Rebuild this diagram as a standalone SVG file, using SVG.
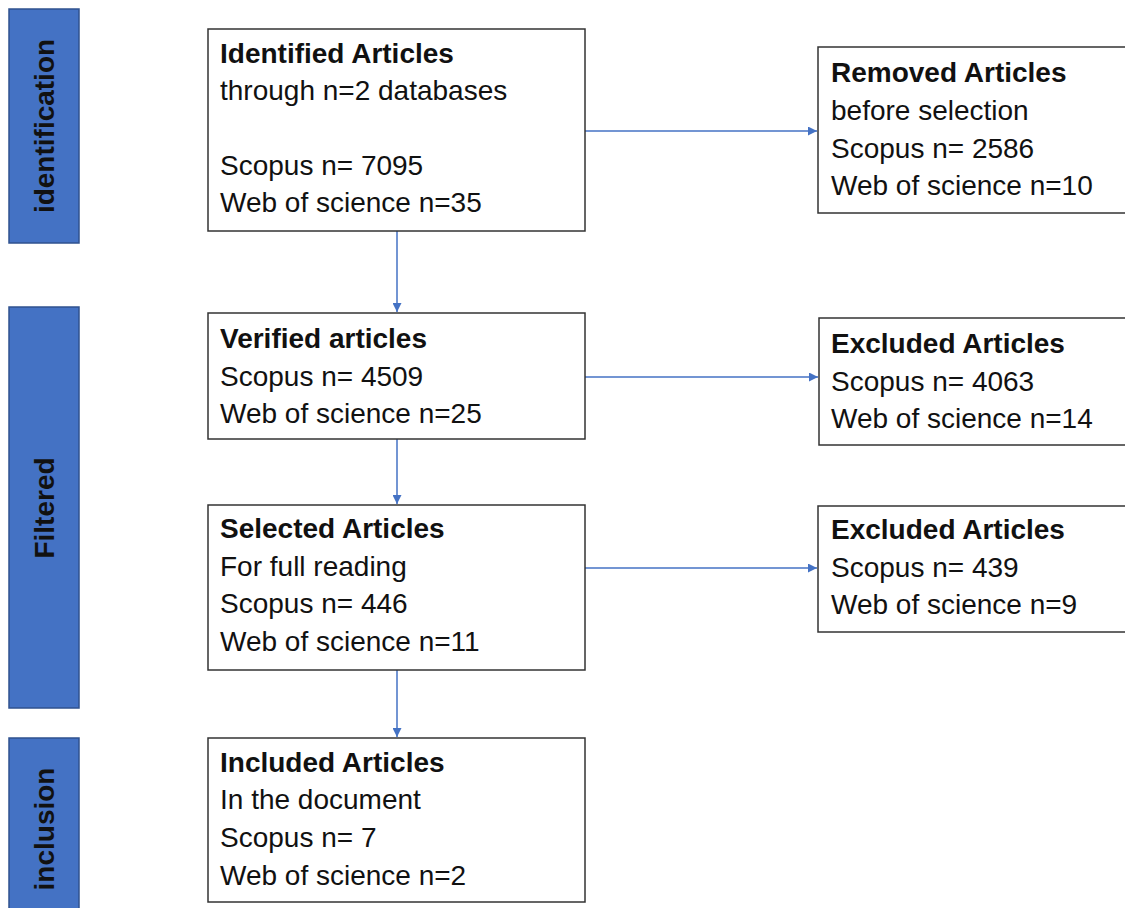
<svg xmlns="http://www.w3.org/2000/svg" width="1125" height="908" viewBox="0 0 1125 908">
<style>
.bar{fill:#4472C4;stroke:#2F528F;stroke-width:1.5}
.bl{font-family:"Liberation Sans",Arial,sans-serif;font-weight:bold;font-size:28px;fill:#111;text-anchor:middle}
.box{fill:#fff;stroke:#333;stroke-width:1.5}
.t{font-family:"Liberation Sans",Arial,sans-serif;font-size:28px;fill:#111}
.b{font-weight:bold}
.c{stroke:#4472C4;stroke-width:1.5;fill:none;marker-end:url(#ah)}
</style>
<defs>
<marker id="ah" viewBox="0 0 10 10" refX="10" refY="5" markerWidth="6" markerHeight="6" markerUnits="strokeWidth" orient="auto">
<path d="M0,0 L10,5 L0,10 z" fill="#4472C4"/>
</marker>
</defs>
<rect width="1125" height="908" fill="#fff"/>
<g id="phase-identification">
<rect class="bar" x="9" y="9" width="70" height="234"/>
<text class="bl" transform="translate(54,126) rotate(-90)">identification</text>
</g>
<g id="phase-filtered">
<rect class="bar" x="9" y="307" width="70" height="401"/>
<text class="bl" transform="translate(54,508) rotate(-90)">Filtered</text>
</g>
<g id="phase-inclusion">
<rect class="bar" x="9" y="738" width="70" height="180"/>
<text class="bl" transform="translate(54,829) rotate(-90)">inclusion</text>
</g>
<g id="connectors">
<line class="c" x1="585" y1="131" x2="817" y2="131"/>
<line class="c" x1="585" y1="377" x2="818" y2="377"/>
<line class="c" x1="585" y1="568" x2="817" y2="568"/>
<line class="c" x1="397" y1="231" x2="397" y2="312"/>
<line class="c" x1="397" y1="439" x2="397" y2="504"/>
<line class="c" x1="397" y1="670" x2="397" y2="737"/>
</g>
<g id="identified">
<rect class="box" x="208" y="29" width="377" height="202"/>
<text class="t b" x="220" y="63">Identified Articles</text>
<text class="t" x="220" y="100">through n=2 databases</text>
<text class="t" x="220" y="175">Scopus n= 7095</text>
<text class="t" x="220" y="212">Web of science n=35</text>
</g>
<g id="removed">
<rect class="box" x="818" y="47" width="320" height="166"/>
<text class="t b" x="831" y="82">Removed Articles</text>
<text class="t" x="831" y="120">before selection</text>
<text class="t" x="831" y="158">Scopus n= 2586</text>
<text class="t" x="831" y="195">Web of science n=10</text>
</g>
<g id="verified">
<rect class="box" x="208" y="313" width="377" height="126"/>
<text class="t b" x="220" y="348">Verified articles</text>
<text class="t" x="220" y="386">Scopus n= 4509</text>
<text class="t" x="220" y="423">Web of science n=25</text>
</g>
<g id="excluded-1">
<rect class="box" x="819" y="318" width="320" height="127"/>
<text class="t b" x="831" y="353">Excluded Articles</text>
<text class="t" x="831" y="391">Scopus n= 4063</text>
<text class="t" x="831" y="428">Web of science n=14</text>
</g>
<g id="selected">
<rect class="box" x="208" y="505" width="377" height="165"/>
<text class="t b" x="220" y="538">Selected Articles</text>
<text class="t" x="220" y="576">For full reading</text>
<text class="t" x="220" y="613">Scopus n= 446</text>
<text class="t" x="220" y="651">Web of science n=11</text>
</g>
<g id="excluded-2">
<rect class="box" x="818" y="506" width="320" height="126"/>
<text class="t b" x="831" y="539">Excluded Articles</text>
<text class="t" x="831" y="577">Scopus n= 439</text>
<text class="t" x="831" y="614">Web of science n=9</text>
</g>
<g id="included">
<rect class="box" x="208" y="738" width="377" height="164"/>
<text class="t b" x="220" y="772">Included Articles</text>
<text class="t" x="220" y="809">In the document</text>
<text class="t" x="220" y="847">Scopus n= 7</text>
<text class="t" x="220" y="885">Web of science n=2</text>
</g>
</svg>
